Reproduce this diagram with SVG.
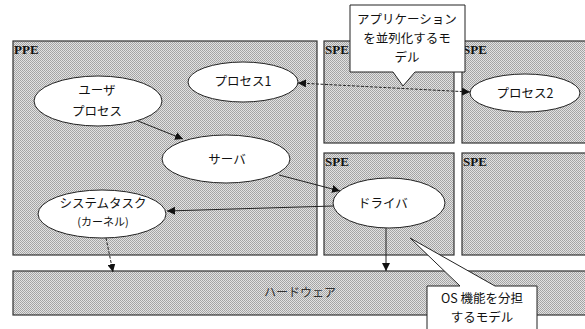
<svg xmlns="http://www.w3.org/2000/svg" width="585" height="329" viewBox="0 0 585 329">
<style>
.box{fill:url(#ht);stroke:#333;stroke-width:1.2}
.lbl{font-family:"Liberation Serif",serif;font-weight:bold;font-size:13px;fill:#111}
.el{fill:#fff;stroke:#222;stroke-width:1}
.t{font-family:"Noto Sans CJK JP",sans-serif;font-size:12.5px;fill:#111;text-anchor:middle}
.ct{font-family:"Noto Sans CJK JP","Liberation Serif",sans-serif;font-size:12.5px;fill:#111;text-anchor:middle}
.c{stroke:#222;stroke-width:1;fill:none}
.d{stroke-dasharray:3 1.5}
.call{fill:#fff;stroke:#222;stroke-width:1}
</style>
<defs>
<pattern id="ht" width="2" height="2" patternUnits="userSpaceOnUse">
<rect width="2" height="2" fill="#e2e2e2"/>
<rect x="0" y="0" width="1" height="1" fill="#a2a2a2"/>
<rect x="1" y="1" width="1" height="1" fill="#a8a8a8"/>
</pattern>
<marker id="ah" viewBox="0 0 10 10" refX="10" refY="5" markerWidth="8" markerHeight="8" orient="auto-start-reverse" markerUnits="userSpaceOnUse">
<path d="M0,0 L10,5 L0,10 Z" fill="#111"/>
</marker>
</defs>
<rect width="585" height="329" fill="#fff"/>
<g id="ppe"><rect class="box" x="13" y="41" width="304" height="214"/><text class="lbl" x="14" y="54">PPE</text></g>
<g id="spe1"><rect class="box" x="324" y="41" width="130" height="102"/><text class="lbl" x="325" y="54">SPE</text></g>
<g id="spe2"><rect class="box" x="462" y="41" width="125" height="102"/><text class="lbl" x="463" y="54">SPE</text></g>
<g id="spe3"><rect class="box" x="324" y="153" width="130" height="102"/><text class="lbl" x="325" y="166">SPE</text></g>
<g id="spe4"><rect class="box" x="462" y="153" width="125" height="102"/><text class="lbl" x="463" y="166">SPE</text></g>
<g id="hw"><rect class="box" x="13" y="271" width="574" height="44"/><text class="t" x="300" y="297" style="font-size:12px;fill:#333">ハードウェア</text></g>
<g id="connectors">
<line class="c" x1="138" y1="121" x2="183" y2="139" marker-end="url(#ah)"/>
<line class="c" x1="279" y1="175" x2="340" y2="191" marker-end="url(#ah)"/>
<line class="c" x1="333" y1="206" x2="167" y2="211" marker-end="url(#ah)"/>
<line class="c d" x1="106" y1="238" x2="113" y2="272" marker-end="url(#ah)"/>
<line class="c" x1="386" y1="228" x2="386" y2="271" marker-end="url(#ah)"/>
<line class="c d" x1="298" y1="83" x2="470" y2="92" marker-start="url(#ah)" marker-end="url(#ah)"/>
</g>
<g id="userproc"><ellipse class="el" cx="98" cy="101" rx="64" ry="25"/><text class="t" x="97" y="95">ユーザ</text><text class="t" x="97" y="116">プロセス</text></g>
<g id="proc1"><ellipse class="el" cx="243" cy="82" rx="55" ry="20"/><text class="t" x="243" y="86">プロセス1</text></g>
<g id="proc2"><ellipse class="el" cx="525" cy="93" rx="55" ry="19"/><text class="t" x="525" y="98">プロセス2</text></g>
<g id="server"><ellipse class="el" cx="226" cy="159" rx="64" ry="24"/><text class="t" x="227" y="164">サーバ</text></g>
<g id="driver"><ellipse class="el" cx="389" cy="203" rx="56" ry="25"/><text class="t" x="383" y="208">ドライバ</text></g>
<g id="systask"><ellipse class="el" cx="102" cy="214" rx="64" ry="24"/><text class="t" x="103" y="208">システムタスク</text><text class="t" x="103" y="226" style="font-size:11px">(カーネル)</text></g>
<g id="callout1"><path class="call" d="M350,5 H465 V72 H415 L403,86 L393,72 H350 Z"/><text class="ct" x="407" y="24">アプリケーション</text><text class="ct" x="407" y="43">を並列化するモ</text><text class="ct" x="407" y="62">デル</text></g>
<g id="callout2"><path class="call" d="M427,286 H460 L410,238 L495,286 H537 V335 H427 Z"/><text class="ct" x="482" y="303">OS 機能を分担</text><text class="ct" x="482" y="322">するモデル</text></g>
</svg>
